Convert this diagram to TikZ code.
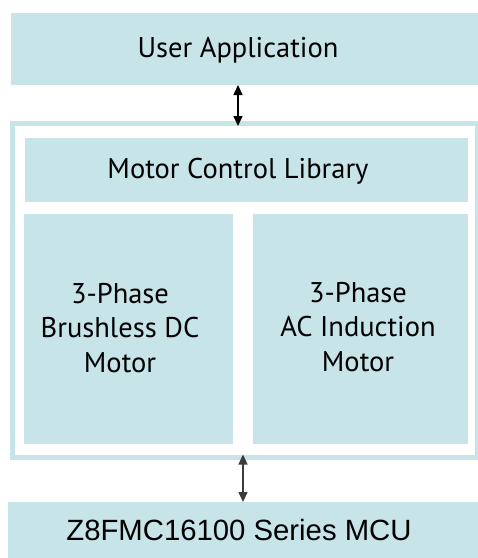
\documentclass[tikz,border=0pt]{standalone}
\usepackage{fontspec}
\setmainfont{PT Sans}
\newfontfamily\arialfont{Liberation Sans}
\usetikzlibrary{arrows.meta}
\definecolor{boxblue}{HTML}{C7E4E8}
\definecolor{arrgray}{HTML}{3C3C3C}
\tikzset{
  bluebox/.style={rectangle, fill=boxblue, draw=none, inner sep=0pt, outer sep=0pt, anchor=north west},
  frame/.style={rectangle, draw=boxblue, line width=5pt, fill=white, inner sep=0pt, outer sep=0pt, anchor=north west},
  lbl/.style={font=\fontsize{28.5}{34.5}\selectfont, inner sep=0pt, text=black},
  mculbl/.style={font=\arialfont\fontsize{29.3}{34}\selectfont, inner sep=0pt, text=black},
  arr/.style={{Triangle[width=9pt,length=10pt]}-{Triangle[width=9pt,length=10pt]}, line width=1.4pt},
}
\begin{document}
\begin{tikzpicture}[x=1pt,y=-1pt]
\useasboundingbox (0,0) rectangle (478,558);
\fill[white] (0,0) rectangle (478,558);
% boxes
\node[bluebox, minimum width=467pt, minimum height=72pt] (ua) at (11,13) {};
\node[frame, minimum width=465pt, minimum height=333.5pt] (lib) at (12.5,123.5) {};
\node[bluebox, minimum width=443pt, minimum height=64pt] (mcl) at (25,138) {};
\node[bluebox, minimum width=209pt, minimum height=230pt] (bldc) at (24,214) {};
\node[bluebox, minimum width=215pt, minimum height=230pt] (acim) at (253,214) {};
\node[bluebox, minimum width=470pt, minimum height=56pt] (mcu) at (8,502) {};
% texts
\node[lbl, anchor=base] (uat) at (238,57.5) {User Application};
\node[lbl, anchor=base] (mclt) at (238,178) {Motor Control Library};
\node[lbl, align=center] (bldct) at (120,328) {3-Phase\\Brushless DC\\Motor};
\node[lbl, align=center] (acimt) at (358,327) {3-Phase\\AC Induction\\Motor};
\node[mculbl, anchor=base] (mcut) at (239,540) {Z8FMC16100 Series MCU};
% connectors
\coordinate (a1) at (238,0);
\coordinate (a2) at (243,0);
\draw[arr, black] (a1 |- ua.south) -- ([yshift=-2.5pt]a1 |- lib.north);
\draw[arr, arrgray] ([yshift=2.5pt]a2 |- lib.south) -- (a2 |- mcu.north);
\end{tikzpicture}
\end{document}
